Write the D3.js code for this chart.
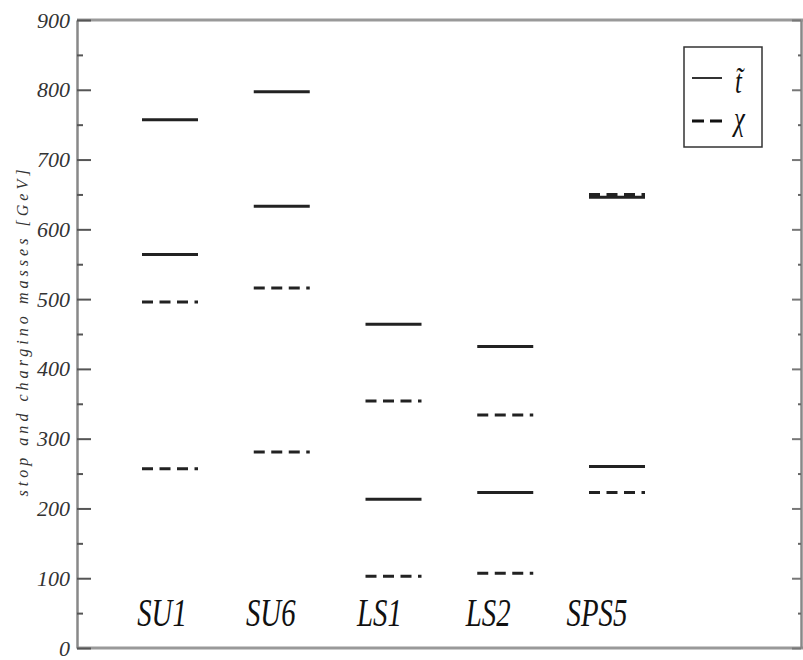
<!DOCTYPE html>
<html>
<head>
<meta charset="utf-8">
<script src="https://cdn.jsdelivr.net/npm/d3@7"></script>
<style>
  body { margin: 0; background: #fff; }
  svg text { font-style: italic; }
</style>
</head>
<body>
<svg id="chart" width="803" height="660"></svg>
<script>
// models along the x axis
var models = ["SU1", "SU6", "LS1", "LS2", "SPS5"];
// stop masses (solid) and chargino masses (dashed), GeV
var stopMasses = [[757, 564], [797, 633], [464, 213], [432, 223], [646, 260]];
var charginoMasses = [[496, 257], [516, 281], [354, 103], [334, 107], [650, 223]];
var yTicks = [0, 100, 200, 300, 400, 500, 600, 700, 800, 900];
var yMinor = [50, 150, 250, 350, 450, 550, 650, 750, 850];

var serif = "'Liberation Serif', 'DejaVu Serif', 'Noto Serif', 'Nimbus Roman', FreeSerif, serif";

var svg = d3.select("#chart"),
    plotLeft = 77, plotRight = 801, plotTop = 20, plotBottom = 648;

var y = d3.scaleLinear().domain([0, 900]).range([plotBottom, plotTop]);
var x = d3.scalePoint().domain(models).range([170, 617]);
var xLabel = d3.scalePoint().domain(models).range([162, 597]);
var half = 28;

// frame: top and bottom lines
svg.append("line")
  .attr("x1", plotLeft).attr("x2", 803).attr("y1", plotTop).attr("y2", plotTop)
  .attr("stroke", "#999").attr("stroke-width", 3);
svg.append("line")
  .attr("x1", plotLeft).attr("x2", 803).attr("y1", plotBottom).attr("y2", plotBottom)
  .attr("stroke", "#999").attr("stroke-width", 3);

// left axis, ticks pointing inward
var gl = svg.append("g")
  .attr("transform", "translate(" + plotLeft + ",0)")
  .call(d3.axisLeft(y).tickValues(yTicks).tickSizeInner(-14).tickSizeOuter(0).tickPadding(7));
gl.attr("font-family", null);
gl.select(".domain").attr("stroke", "#888").attr("stroke-width", 2.5);
gl.selectAll(".tick line").attr("stroke", "#555").attr("stroke-width", 2);
gl.selectAll(".tick text")
  .style("font-family", serif).style("font-style", "italic")
  .style("font-size", "22px").attr("fill", "#333");
svg.append("g")
  .attr("transform", "translate(" + plotLeft + ",0)")
  .call(d3.axisLeft(y).tickValues(yMinor).tickSizeInner(-6).tickSizeOuter(0).tickFormat(""))
  .call(function(g) {
    g.select(".domain").remove();
    g.selectAll(".tick line").attr("stroke", "#555").attr("stroke-width", 2);
  });

// right axis, ticks pointing inward
var gr = svg.append("g")
  .attr("transform", "translate(" + plotRight + ",0)")
  .call(d3.axisRight(y).tickValues(yTicks).tickSizeInner(-9).tickSizeOuter(0).tickFormat(""));
gr.select(".domain").attr("stroke", "#888").attr("stroke-width", 2.5);
gr.selectAll(".tick line").attr("stroke", "#777").attr("stroke-width", 2);
svg.append("g")
  .attr("transform", "translate(" + plotRight + ",0)")
  .call(d3.axisRight(y).tickValues(yMinor).tickSizeInner(-3).tickSizeOuter(0).tickFormat(""))
  .call(function(g) {
    g.select(".domain").remove();
    g.selectAll(".tick line").attr("stroke", "#666").attr("stroke-width", 2);
  });

// y axis title
svg.append("text")
  .attr("transform", "translate(28,333) rotate(-90)")
  .attr("text-anchor", "middle")
  .attr("textLength", 327)
  .attr("lengthAdjust", "spacing")
  .style("font-family", serif)
  .style("font-size", "16px")
  .attr("fill", "#333")
  .text("stop and chargino masses [GeV]");

// flatten mass levels
var stops = [], charginos = [];
models.forEach(function(m, i) {
  stopMasses[i].forEach(function(v) { stops.push({model: m, value: v}); });
  charginoMasses[i].forEach(function(v) { charginos.push({model: m, value: v}); });
});

svg.selectAll(".chargino")
  .data(charginos)
  .enter().append("line")
  .attr("class", "chargino")
  .attr("x1", function(d) { return x(d.model) - half; })
  .attr("x2", function(d) { return x(d.model) + half; })
  .attr("y1", function(d) { return y(d.value); })
  .attr("y2", function(d) { return y(d.value); })
  .attr("stroke", "#222")
  .attr("stroke-width", 3)
  .attr("stroke-dasharray", "11,6.5");

svg.selectAll(".stop")
  .data(stops)
  .enter().append("line")
  .attr("class", "stop")
  .attr("x1", function(d) { return x(d.model) - half; })
  .attr("x2", function(d) { return x(d.model) + half; })
  .attr("y1", function(d) { return y(d.value); })
  .attr("y2", function(d) { return y(d.value); })
  .attr("stroke", "#222")
  .attr("stroke-width", 3);

// model labels
svg.selectAll(".model")
  .data(models)
  .enter().append("text")
  .attr("class", "model")
  .attr("transform", function(d) { return "translate(" + xLabel(d) + ",626) scale(0.72,1)"; })
  .attr("text-anchor", "middle")
  .style("font-family", serif)
  .style("font-size", "40px")
  .attr("fill", "#111")
  .text(function(d) { return d; });

// legend
var lg = svg.append("g");
lg.append("rect")
  .attr("x", 684).attr("y", 47).attr("width", 78).attr("height", 100)
  .attr("fill", "#fff").attr("stroke", "#333").attr("stroke-width", 1.5);
lg.append("line")
  .attr("x1", 692).attr("x2", 722).attr("y1", 78).attr("y2", 78)
  .attr("stroke", "#333").attr("stroke-width", 2);
lg.append("line")
  .attr("x1", 692).attr("x2", 722).attr("y1", 121).attr("y2", 121)
  .attr("stroke", "#111").attr("stroke-width", 3).attr("stroke-dasharray", "12,6");
lg.append("text")
  .attr("transform", "translate(735,93) scale(0.72,1)")
  .style("font-family", serif)
  .style("font-size", "34px").attr("fill", "#111")
  .text("t\u0303");
lg.append("text")
  .attr("transform", "translate(734,130) scale(0.72,1)")
  .style("font-family", serif)
  .style("font-size", "34px").attr("fill", "#111")
  .text("\u03c7");
</script>
</body>
</html>
